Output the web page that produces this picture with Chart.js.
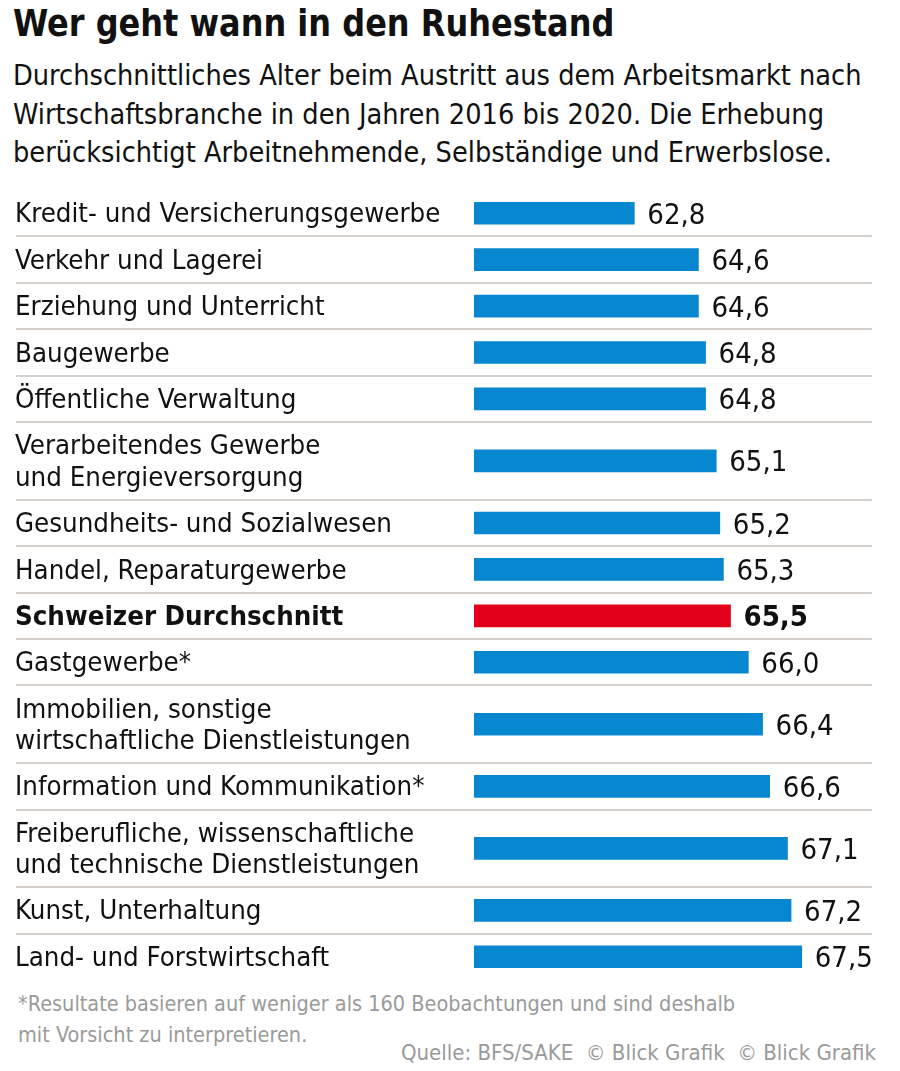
<!DOCTYPE html>
<html lang="de">
<head>
<meta charset="utf-8">
<title>Wer geht wann in den Ruhestand</title>
<script src="https://cdn.jsdelivr.net/npm/chart.js@4.4.1/dist/chart.umd.min.js"></script>
<style>
    html, body { margin: 0; padding: 0; background: #fff; }
    body {
        width: 900px; height: 1071px; position: relative; overflow: hidden;
        font-family: 'Liberation Sans Narrow', 'DejaVu Sans Condensed', sans-serif;
        color: #111;
    }
    h1 {
        position: absolute; left: 13px; top: 0; margin: 0;
        font-size: 38px; font-weight: bold; line-height: 46px;
        transform: scaleX(0.936); transform-origin: left center; white-space: nowrap;
    }
    .subtitle { position: absolute; left: 13px; top: 56px; margin: 0; font-size: 28.6px; line-height: 38.5px; }
    #chartBox { position: absolute; left: 0; top: 190px; width: 900px; height: 790px; }
    .footnote { position: absolute; left: 18px; top: 988px; font-size: 21.5px; line-height: 31px; color: #9a9a9a; }
    .source { position: absolute; right: 24px; top: 1040px; font-size: 22px; color: #9a9a9a; }
</style>
</head>
<body>
<h1>Wer geht wann in den Ruhestand</h1>
<p class="subtitle">Durchschnittliches Alter beim Austritt aus dem Arbeitsmarkt nach<br>Wirtschaftsbranche in den Jahren 2016 bis 2020. Die Erhebung<br>berücksichtigt Arbeitnehmende, Selbständige und Erwerbslose.</p>
<div id="chartBox"><canvas id="retireChart"></canvas></div>
<div class="footnote">*Resultate basieren auf weniger als 160 Beobachtungen und sind deshalb<br>mit Vorsicht zu interpretieren.</div>
<div class="source">Quelle: BFS/SAKE &nbsp;© Blick Grafik &nbsp;© Blick Grafik</div>

<script>
// Branches (one entry per label line)
const categories = [
    ['Kredit- und Versicherungsgewerbe'],
    ['Verkehr und Lagerei'],
    ['Erziehung und Unterricht'],
    ['Baugewerbe'],
    ['Öffentliche Verwaltung'],
    ['Verarbeitendes Gewerbe', 'und Energieversorgung'],
    ['Gesundheits- und Sozialwesen'],
    ['Handel, Reparaturgewerbe'],
    ['Schweizer Durchschnitt'],
    ['Gastgewerbe*'],
    ['Immobilien, sonstige', 'wirtschaftliche Dienstleistungen'],
    ['Information und Kommunikation*'],
    ['Freiberufliche, wissenschaftliche', 'und technische Dienstleistungen'],
    ['Kunst, Unterhaltung'],
    ['Land- und Forstwirtschaft']
];

// Average exit age
const values = [62.8, 64.6, 64.6, 64.8, 64.8, 65.1, 65.2, 65.3, 65.5, 66.0, 66.4, 66.6, 67.1, 67.2, 67.5];

// Value axis range (bars do not start at zero)
const axisMin = 58.3;
const axisMax = 69.5;

const highlight = 'Schweizer Durchschnitt';

const FONT = "'Liberation Sans Narrow', 'DejaVu Sans Condensed', sans-serif";
const BLUE = '#0787cf';
const RED = '#e2001a';
const EXTRA_LINE = 0.672; // extra row height for each additional label line

// Row layout: taller rows for two-line labels
const hlIndex = categories.findIndex(c => c.join(' ') === highlight);
const rowHeights = categories.map(c => 1 + EXTRA_LINE * (c.length - 1));
const rowCenters = [];
const rowBounds = [];
let acc = 0;
rowHeights.forEach((h, i) => {
    rowCenters.push(acc + h / 2);
    acc += h;
    if (i < rowHeights.length - 1) rowBounds.push(acc);
});
const totalRows = acc;

function formatValue(v) {
    return v.toFixed(1).replace('.', ',');
}

// Separator lines across the whole width
const separatorPlugin = {
    id: 'separators',
    beforeDatasetsDraw(chart) {
        const { ctx, scales: { y } } = chart;
        ctx.save();
        ctx.strokeStyle = '#d6d0cc';
        ctx.lineWidth = 2;
        rowBounds.forEach(b => {
            const py = Math.round(y.getPixelForValue(b));
            ctx.beginPath();
            ctx.moveTo(16, py);
            ctx.lineTo(872, py);
            ctx.stroke();
        });
        ctx.restore();
    }
};

// Value labels at the end of each bar
const valueLabelPlugin = {
    id: 'valueLabels',
    afterDatasetsDraw(chart) {
        const { ctx } = chart;
        const meta = chart.getDatasetMeta(0);
        ctx.save();
        ctx.fillStyle = '#111';
        ctx.textBaseline = 'middle';
        ctx.textAlign = 'left';
        meta.data.forEach((bar, i) => {
            ctx.font = (i === hlIndex ? 'bold ' : '') + '29px ' + FONT;
            ctx.fillText(formatValue(values[i]), bar.x + 13, bar.y + 3);
        });
        ctx.restore();
    }
};

function initChart() {
    const ctx = document.getElementById('retireChart');

    new Chart(ctx, {
        type: 'bar',
        data: {
            datasets: [{
                data: values.map((v, i) => ({ x: v, y: rowCenters[i] })),
                backgroundColor: values.map((v, i) => i === hlIndex ? RED : BLUE),
                borderWidth: 0,
                barThickness: 22
            }]
        },
        options: {
            indexAxis: 'y',
            responsive: true,
            maintainAspectRatio: false,
            animation: false,
            layout: {
                padding: { left: 15, right: 27, top: 0, bottom: 0 }
            },
            plugins: {
                legend: { display: false },
                tooltip: { enabled: false }
            },
            scales: {
                x: {
                    type: 'linear',
                    min: axisMin,
                    max: axisMax,
                    display: false
                },
                y: {
                    type: 'linear',
                    min: 0,
                    max: totalRows,
                    reverse: true,
                    offset: false,
                    grid: { display: false },
                    border: { display: false },
                    afterBuildTicks: scale => {
                        scale.ticks = rowCenters.map(v => ({ value: v }));
                    },
                    afterFit: scale => {
                        scale.width = 459;
                        scale.paddingTop = 0;
                        scale.paddingBottom = 0;
                    },
                    ticks: {
                        autoSkip: false,
                        crossAlign: 'far',
                        color: '#111',
                        padding: 0,
                        labelOffset: 2,
                        font: c => ({
                            family: FONT,
                            size: 27.4,
                            weight: c.index === hlIndex ? 'bold' : 'normal',
                            lineHeight: 1.15
                        }),
                        callback: (value, index) => categories[index]
                    }
                }
            }
        },
        plugins: [separatorPlugin, valueLabelPlugin]
    });
}

document.addEventListener('DOMContentLoaded', initChart);
</script>
</body>
</html>
